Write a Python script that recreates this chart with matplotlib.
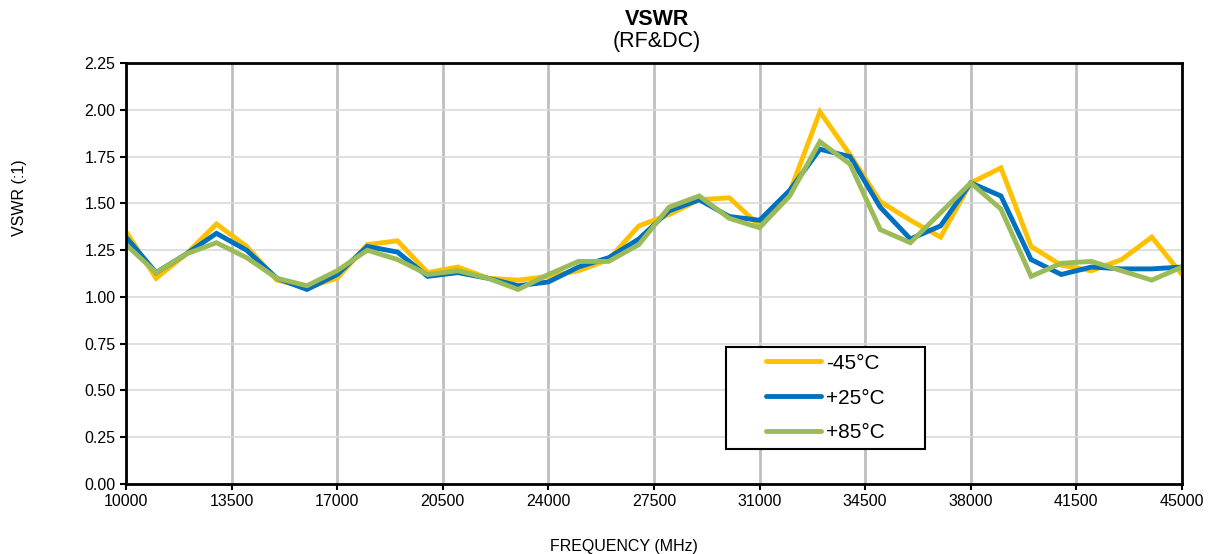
import matplotlib.pyplot as plt
from matplotlib.patches import Rectangle
import numpy as np

plt.rcParams['font.family'] = ['Liberation Sans', 'DejaVu Sans']

# Data (MHz, VSWR)
freq = list(range(10000, 46000, 1000))
vswr_m45 = [1.35, 1.10, 1.23, 1.39, 1.27, 1.09, 1.05, 1.10, 1.28, 1.30, 1.13, 1.16,
            1.10, 1.09, 1.11, 1.14, 1.20, 1.38, 1.44, 1.52, 1.53, 1.38, 1.56, 1.99,
            1.76, 1.51, 1.41, 1.32, 1.61, 1.69, 1.27, 1.17, 1.14, 1.20, 1.32, 1.12]
vswr_p25 = [1.32, 1.13, 1.23, 1.34, 1.25, 1.10, 1.04, 1.12, 1.27, 1.24, 1.11, 1.13,
            1.10, 1.06, 1.08, 1.16, 1.21, 1.31, 1.46, 1.52, 1.43, 1.41, 1.57, 1.79,
            1.75, 1.48, 1.31, 1.38, 1.61, 1.54, 1.20, 1.12, 1.16, 1.15, 1.15, 1.16]
vswr_p85 = [1.28, 1.13, 1.23, 1.29, 1.21, 1.10, 1.06, 1.14, 1.25, 1.20, 1.12, 1.14,
            1.10, 1.04, 1.12, 1.19, 1.19, 1.28, 1.48, 1.54, 1.42, 1.37, 1.54, 1.83,
            1.71, 1.36, 1.29, 1.45, 1.61, 1.47, 1.11, 1.18, 1.19, 1.14, 1.09, 1.16]
labels = ['-45°C', '+25°C', '+85°C']
colors = ['#FFC000', '#0070C0', '#9BBB59']

fig = plt.figure(figsize=(12.11, 5.54), dpi=100)
ax = fig.add_axes([0.104, 0.1264, 0.872, 0.7596])

for vals, lab, col in zip([vswr_m45, vswr_p25, vswr_p85], labels, colors):
    ax.plot(freq, vals, color=col, lw=3.5, label=lab, solid_capstyle='round',
            solid_joinstyle='miter')

ax.set_xlim(10000, 45000)
ax.set_ylim(0, 2.25)
ax.set_xticks(np.arange(10000, 45001, 3500))
ax.set_yticks(np.arange(0, 2.26, 0.25))
ax.set_yticklabels([f'{v:.2f}' for v in np.arange(0, 2.26, 0.25)])
ax.tick_params(labelsize=11.5, length=4, width=1.5, direction='out')
ax.grid(axis='x', color='#BFBFBF', lw=2)
ax.grid(axis='y', color='#D9D9D9', lw=1.2)
ax.set_axisbelow(True)
for s in ax.spines.values():
    s.set_linewidth(2)
    s.set_color('black')

fig.text(0.5425, 0.965, 'VSWR', ha='center', va='center', fontsize=15.5, fontweight='bold')
fig.text(0.5425, 0.925, '(RF&DC)', ha='center', va='center', fontsize=15.5)
fig.text(0.0165, 0.643, 'VSWR (:1)', ha='center', va='center', rotation=90, fontsize=11.5)
fig.text(0.515, 0.0144, 'FREQUENCY (MHz)', ha='center', va='center', fontsize=11.5)

# legend box (drawn separately for the wide side padding)
ax.add_patch(Rectangle((0.568, 0.0831), 0.1884, 0.2423, transform=ax.transAxes,
                       facecolor='white', edgecolor='black', lw=1.5, zorder=5))
leg = ax.legend(loc='center', bbox_to_anchor=(0.6624, 0.2043), fontsize=15,
                frameon=False, handlelength=2.64, handletextpad=0.25,
                labelspacing=0.76, borderaxespad=0)
leg.set_zorder(6)

fig.savefig('out.png', dpi=100)
